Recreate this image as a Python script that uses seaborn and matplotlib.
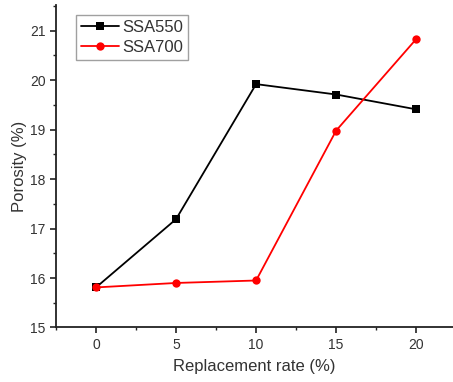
import matplotlib
matplotlib.use("Agg")
import matplotlib.pyplot as plt
import seaborn as sns
import pandas as pd
from matplotlib.ticker import MultipleLocator

rates = [0, 5, 10, 15, 20]
ssa550 = [15.81, 17.19, 19.92, 19.71, 19.41]
ssa700 = [15.81, 15.90, 15.95, 18.98, 20.83]
series_names = ["SSA550", "SSA700"]

df = pd.DataFrame({
    "rate": rates * 2,
    "porosity": ssa550 + ssa700,
    "series": [series_names[0]] * len(rates) + [series_names[1]] * len(rates),
})

sns.set_style("ticks")
plt.rcParams["font.family"] = ["Liberation Sans", "DejaVu Sans"]

fig = plt.figure(figsize=(4.53, 3.82), dpi=100)
ax = fig.add_axes([0.1236, 0.1427, 0.8764, 0.8443])

sns.lineplot(data=df, x="rate", y="porosity", hue="series", style="series",
             palette={"SSA550": "black", "SSA700": "#ff0000"},
             markers={"SSA550": "s", "SSA700": "o"}, dashes=False,
             markersize=6, markeredgewidth=0, linewidth=1.3, ax=ax)

ax.set_xlim(-2.5, 22.3)
ax.set_ylim(15, 21.52)
ax.set_xticks(rates)
ax.xaxis.set_minor_locator(MultipleLocator(2.5))
ax.yaxis.set_major_locator(MultipleLocator(1))
ax.yaxis.set_minor_locator(MultipleLocator(0.5))
ax.tick_params(axis="both", which="major", direction="out", length=4, width=1.2,
               labelsize=10, colors="#222222", labelcolor="#333333")
ax.tick_params(axis="both", which="minor", direction="out", length=2.5, width=1.0, colors="#222222")
ax.set_xlabel("Replacement rate (%)", fontsize=12, color="#333333", labelpad=5)
ax.set_ylabel("Porosity (%)", fontsize=12, color="#333333", labelpad=2)
for s in ["top", "right"]:
    ax.spines[s].set_visible(False)
for s in ["left", "bottom"]:
    ax.spines[s].set_linewidth(1.3)
    ax.spines[s].set_color("#222222")

leg = ax.legend(loc="upper left", bbox_to_anchor=(0.05, 0.97), fontsize=12,
                frameon=True, fancybox=False, edgecolor="#888888",
                handlelength=2.3, handletextpad=0.2, borderpad=0.3,
                labelspacing=0.3, borderaxespad=0)
leg.get_frame().set_linewidth(1.0)
for t in leg.get_texts():
    t.set_color("#333333")

fig.savefig("out.png", dpi=100)
